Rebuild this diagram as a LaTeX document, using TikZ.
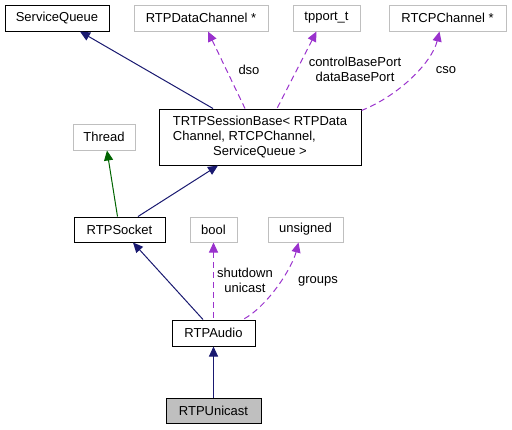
\documentclass[tikz,border=0pt]{standalone}
\usepackage{fontspec}
\setmainfont{Liberation Sans}
\usetikzlibrary{arrows.meta}
\definecolor{navyedge}{RGB}{25,25,112}
\definecolor{greenedge}{RGB}{0,100,0}
\definecolor{purpleedge}{RGB}{154,50,205}
\definecolor{greybox}{RGB}{191,191,191}
\begin{document}
\begin{tikzpicture}[x=1pt,y=-1pt,
  lbl/.style={font=\fontsize{13}{15}\selectfont, inner sep=0pt},
  cls/.style={lbl, draw=black, line width=1pt, rectangle, minimum height=26pt},
  ext/.style={lbl, draw=greybox, line width=1pt, rectangle, minimum height=26pt},
  inh/.style={draw=navyedge, line width=1pt, {Triangle[length=10pt,width=9pt]}-},
  inhg/.style={draw=greenedge, line width=1pt, {Triangle[length=10pt,width=9pt]}-},
  use/.style={draw=purpleedge, line width=1pt, dash pattern=on 6pt off 4pt, {Triangle[length=10pt,width=9pt]}-},
  elbl/.style={lbl, align=center}
]
\useasboundingbox (0,0) rectangle (512,429);
\node[cls, minimum width=104pt] (sq) at (57,18) {ServiceQueue};
\node[ext, minimum width=134pt] (dc) at (201,18) {RTPDataChannel *};
\node[ext, minimum width=67pt] (tp) at (326.5,18) {tpport\_t};
\node[ext, minimum width=117pt] (rc) at (447.5,18) {RTCPChannel *};
\node[cls, minimum width=202pt, minimum height=56pt] (tb) at (260,137)
  {\begin{tabular}{@{}l@{}}TRTPSessionBase< RTPData\\Channel, RTCPChannel,\\\multicolumn{1}{@{}c@{}}{ServiceQueue >}\end{tabular}};
\node[ext, minimum width=62pt] (th) at (104,137) {Thread};
\node[cls, minimum width=91pt, minimum height=25pt] (so) at (119.5,229.5) {RTPSocket};
\node[ext, minimum width=47pt, minimum height=25pt] (bo) at (213.5,229.5) {bool};
\node[ext, minimum width=75pt, minimum height=25pt] (un) at (305.5,229.5) {unsigned};
\node[cls, minimum width=83pt] (ra) at (213.5,333) {RTPAudio};
\node[cls, fill=greybox, minimum width=95pt, minimum height=25pt] (ru) at (213.5,410.5) {RTPUnicast};

% inheritance
\draw[inh] ([xshift=23pt]sq.south) -- ([xshift=-47pt]tb.north);
\draw[inhg] ([xshift=3pt]th.south) -- ([xshift=-2pt]so.north);
\draw[inh] ([xshift=-42pt]tb.south) -- ([xshift=18.5pt]so.north);
\draw[inh] ([xshift=13.5pt]so.south) -- ([xshift=-10.5pt]ra.north);
\draw[inh] (ra.south) -- (ru.north);

% usage
\draw[use] ([xshift=7pt]dc.south) -- ([xshift=-15pt]tb.north);
\draw[use] ([xshift=-10pt]tp.south) -- ([xshift=17pt]tb.north);
\draw[use] ([xshift=-8pt]rc.south) .. controls (432,62) and (400,95) .. ([yshift=-2pt]tb.north east);
\draw[use] (bo.south) -- (ra.north);
\draw[use] ([xshift=-7pt]un.south) .. controls (292,268) and (268,306) .. ([xshift=29.5pt]ra.north);

% edge labels
\node[elbl] (ldso) at (249,70) {dso};
\node[elbl] (lport) at (355,69) {controlBasePort\\dataBasePort};
\node[elbl] (lcso) at (446,70) {cso};
\node[elbl] (lbool) at (245,280) {shutdown\\unicast};
\node[elbl] (lgrp) at (318,281) {groups};
\end{tikzpicture}
\end{document}
